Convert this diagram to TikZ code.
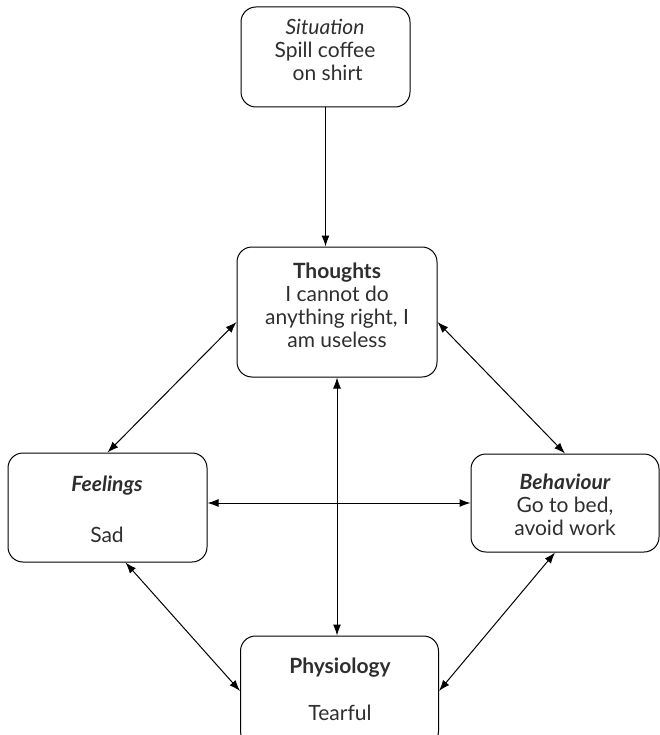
\documentclass[tikz,border=0pt]{standalone}
\usepackage{fontspec}
\setmainfont{Lato}
\usetikzlibrary{arrows.meta}
\definecolor{ink}{HTML}{2E2E2E}
\begin{document}
\begin{tikzpicture}[x=1pt,y=-1pt,
  box/.style={draw=black, line width=1pt, rounded corners=15pt, inner sep=0pt},
  txt/.style={text=ink, align=center, inner sep=0pt, font=\fontsize{21}{23}\selectfont},
  tip/.tip={Latex[length=11pt,width=8pt]},
  link/.style={line width=1pt, tip-tip},
  oneway/.style={line width=1pt, -tip}]
\useasboundingbox (0,0) rectangle (660,735);

% boxes
\node[box, minimum width=169pt, minimum height=100pt] (sit) at (325.5,57) {};
\node[box, minimum width=200pt, minimum height=130pt] (tho) at (337,312) {};
\node[box, minimum width=199pt, minimum height=109pt] (fee) at (107.5,507.5) {};
\node[box, minimum width=188pt, minimum height=98pt] (beh) at (565,503) {};
\node[box, minimum width=198pt, minimum height=110pt] (phy) at (339.5,691) {};

% texts
\node[txt] (sitT) at (325,50) {\itshape Situation\\Spill coffee\\\ on shirt};
\node[txt] (thoT) at (337,305) {\bfseries Thoughts\\I cannot do\\anything right, I\\am useless};
\node[txt] (feeT) at (107,509) {\bfseries\itshape Feelings\\[28pt]Sad};
\node[txt] (behT) at (565,505) {\bfseries\itshape Behaviour\\Go to bed,\\avoid work};
\node[txt] (phyT) at (340,689) {\bfseries Physiology\\[24pt]Tearful};

% connectors
\draw[oneway] (sit.south) -- (sit.south |- tho.north);
\draw[link] ([yshift=-10pt]tho.west) -- (fee.north);
\draw[link] ([yshift=-10pt]tho.east) -- (beh.north);
\draw[link] (fee.east |- beh.west) -- (beh.west);
\draw[link] (tho.south) -- (tho.south |- phy.north);
\draw[link] ([xshift=18pt]fee.south) -- (phy.west);
\draw[link] ([xshift=-10pt]beh.south) -- (phy.east);
\end{tikzpicture}
\end{document}
